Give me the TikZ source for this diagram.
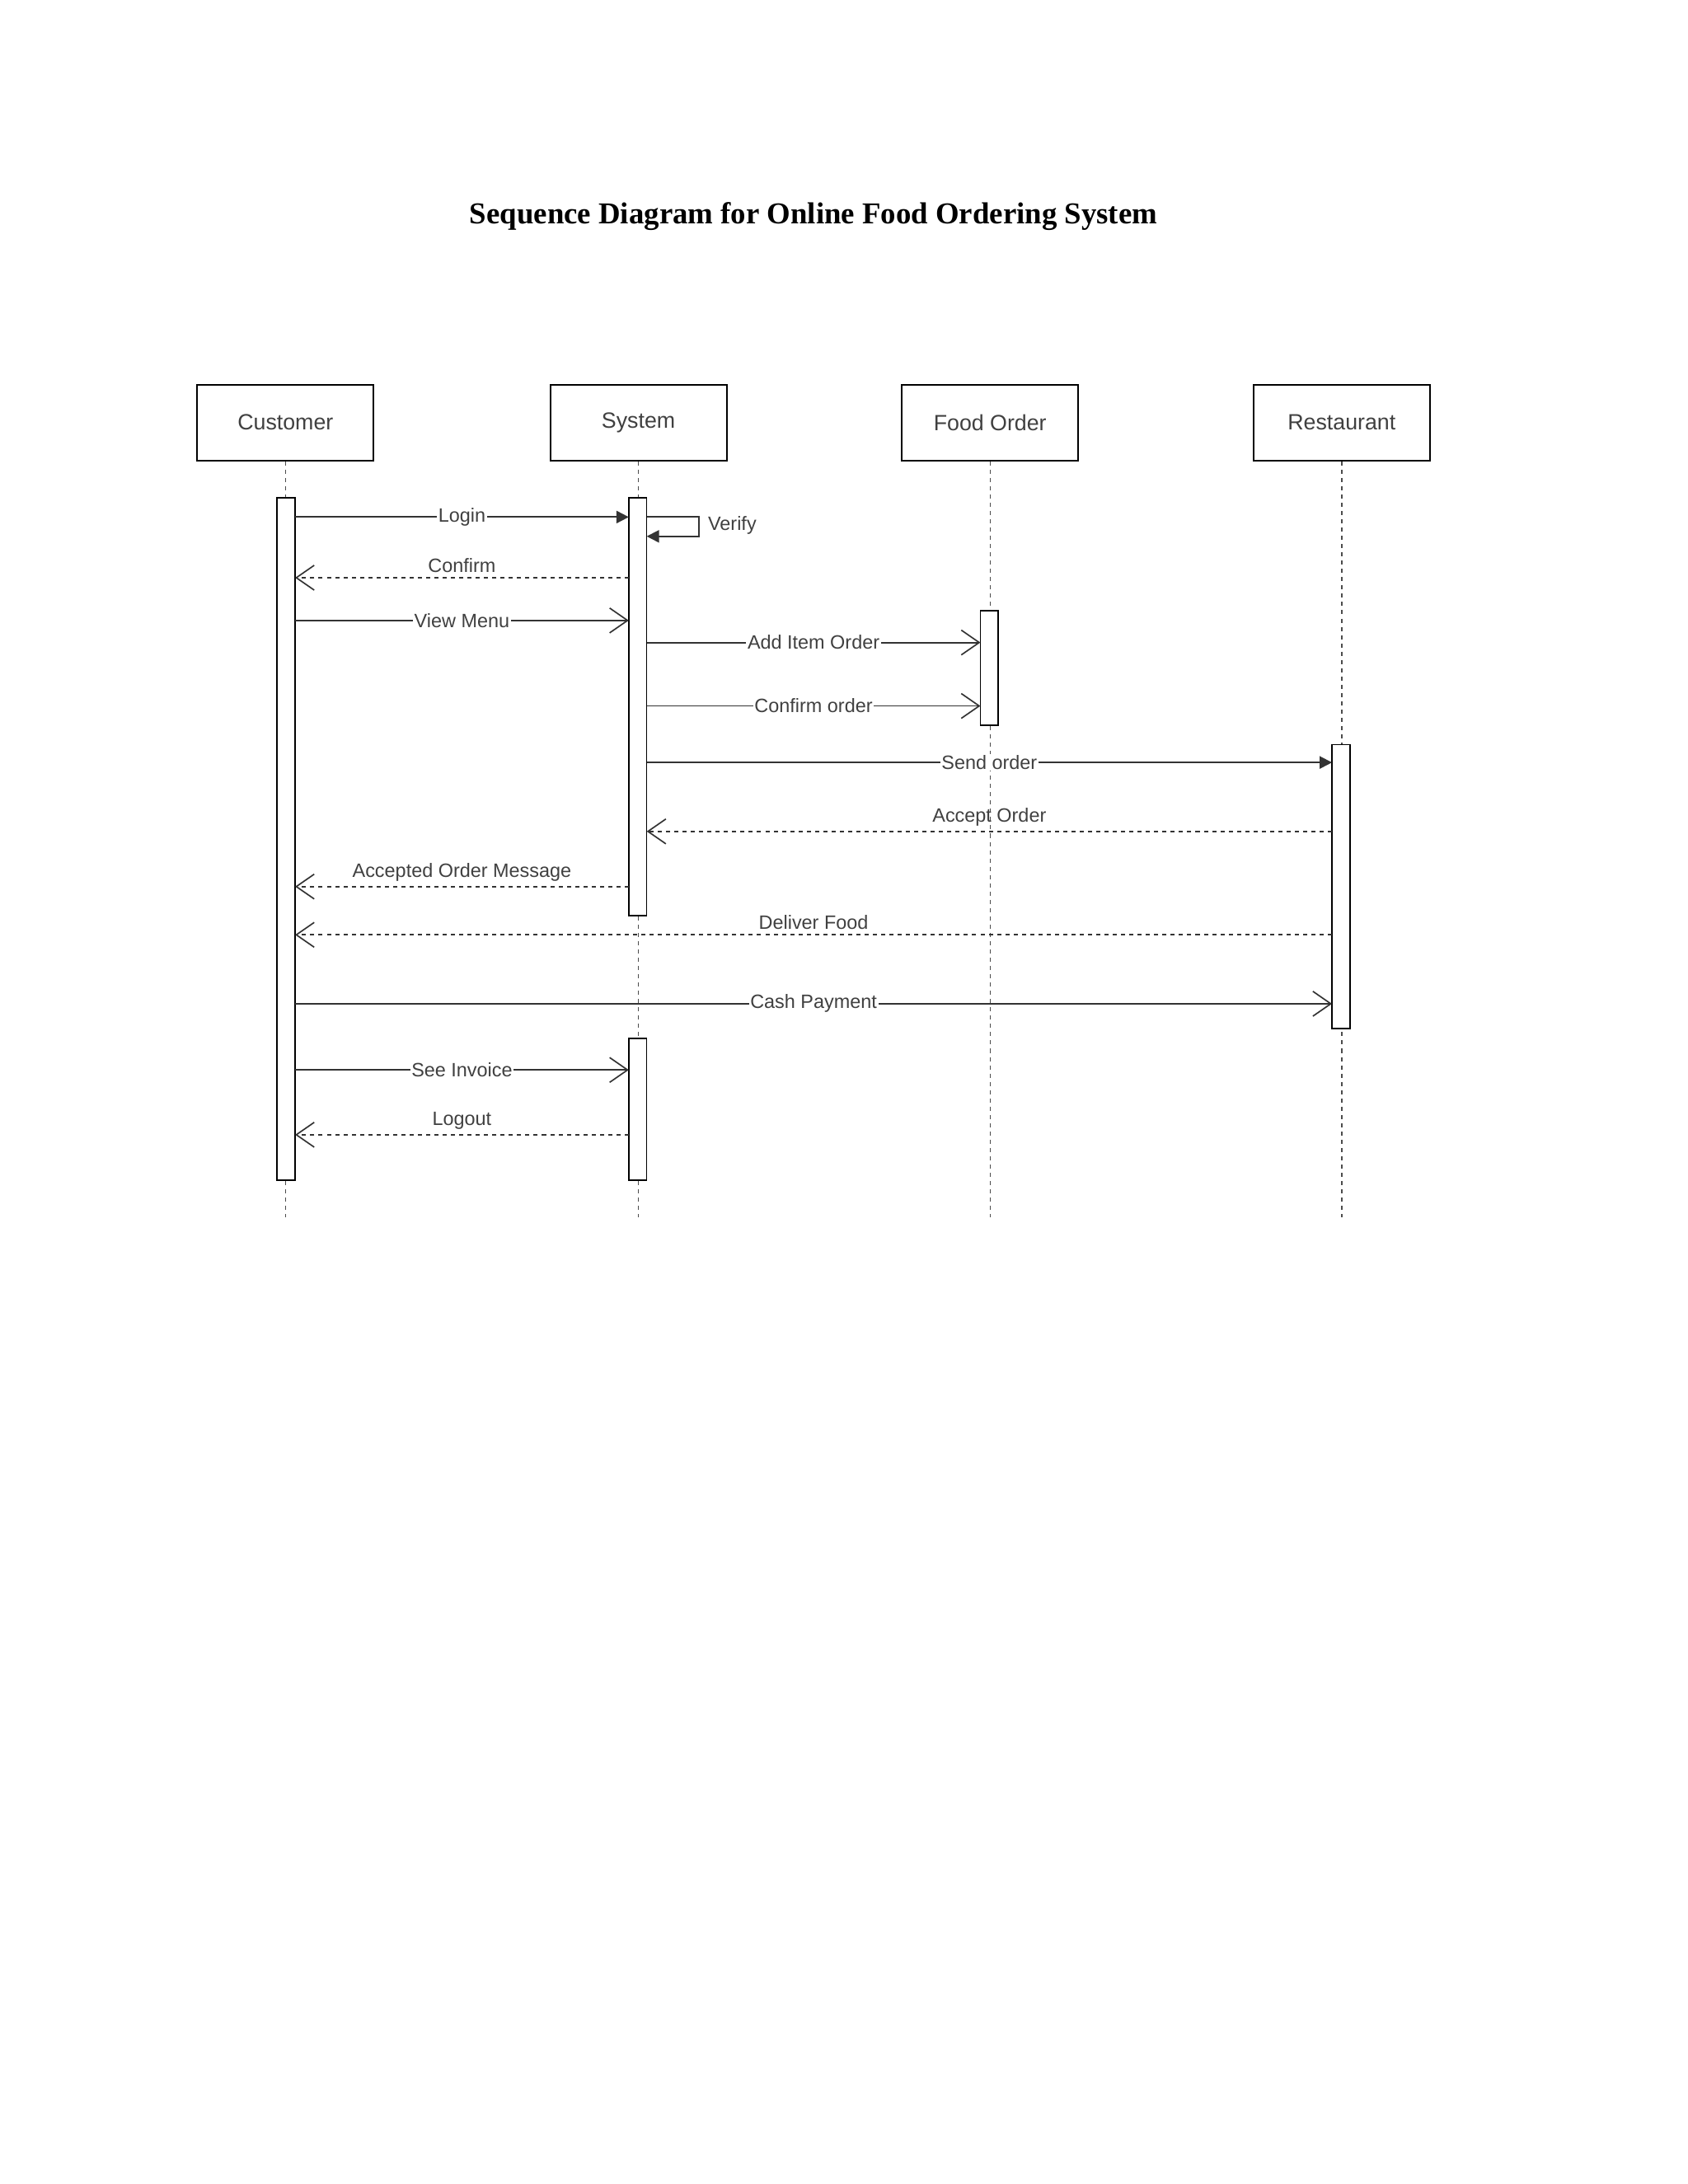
\documentclass[tikz,border=0pt]{standalone}
\usepackage{fontspec}
\setmainfont{Liberation Serif}
\newfontfamily\lab{Liberation Sans}
\usetikzlibrary{arrows.meta}
\begin{document}
\begin{tikzpicture}[x=1pt,y=-1pt,
 actor/.style={draw,line width=1.2pt,minimum width=128pt,minimum height=55pt,font=\lab\fontsize{16}{18}\selectfont,text=black!75},
 life/.style={dashed,line width=0.8pt,black!70},
 act/.style={draw,fill=white,line width=1pt},
 msg/.style={line width=1.1pt,black!80},
 opena/.style={-{Straight Barb[length=13pt,width=18pt,line width=1pt]}},
 fila/.style={-{Triangle[length=9pt,width=9pt]}},
 ret/.style={msg,dashed,opena},
 ml/.style={fill=white,inner sep=1pt,font=\lab\fontsize{14}{16}\selectfont,text=black!75},
 al/.style={font=\lab\fontsize{14}{16}\selectfont,text=black!75,above}]
\useasboundingbox (0,0) rectangle (1224,1584);
\node[font=\bfseries\fontsize{22}{26}\selectfont] (title) at (590,157) {Sequence Diagram for Online Food Ordering System};
\node[actor] (cu) at (207,306.5) {Customer};
\node[actor] (sy) at (463,306.5) {System};
\node[actor] (fo) at (718,306.5) {Food Order};
\node[actor] (re) at (973,306.5) {Restaurant};
\foreach \n/\x in {cu/207,sy/463,fo/718,re/973}{
 \coordinate (\n e) at (\x,883);
 \draw[life] (\n) -- (\n e);}
\draw[act] (201,361) rectangle (214,856);
\draw[act] (456,361) rectangle (469,664);
\draw[act] (456,753) rectangle (469,856);
\draw[act] (711,443) rectangle (724,526);
\draw[act] (966,540) rectangle (979,746);
% messages
\draw[msg,fila] (214,375) -- node[ml]{Login} (456,375);
\draw[msg,fila] (469,375) -- (507,375) -- (507,389) -- (469,389);
\node[font=\lab\fontsize{14}{16}\selectfont,text=black!75,anchor=west] (vf) at (510,381) {Verify};
\draw[ret] (456,419) -- node[al]{Confirm} (214,419);
\draw[msg,opena] (214,450) -- node[ml]{View Menu} (456,450);
\draw[msg,opena] (469,466) -- node[ml]{Add Item Order} (711,466);
\draw[msg,opena] (469,512) -- node[ml]{Confirm order} (711,512);
\draw[msg,fila] (469,553) -- node[ml,pos=0.5]{Send order} (966,553);
\draw[ret] (966,603) -- node[al]{Accept Order} (469,603);
\draw[ret] (456,643) -- node[al]{Accepted Order Message} (214,643);
\draw[ret] (966,678) -- node[al]{Deliver Food} (214,678);
\draw[msg,opena] (214,728) -- node[ml]{Cash Payment} (966,728);
\draw[msg,opena] (214,776) -- node[ml]{See Invoice} (456,776);
\draw[ret] (456,823) -- node[al]{Logout} (214,823);
\end{tikzpicture}
\end{document}
